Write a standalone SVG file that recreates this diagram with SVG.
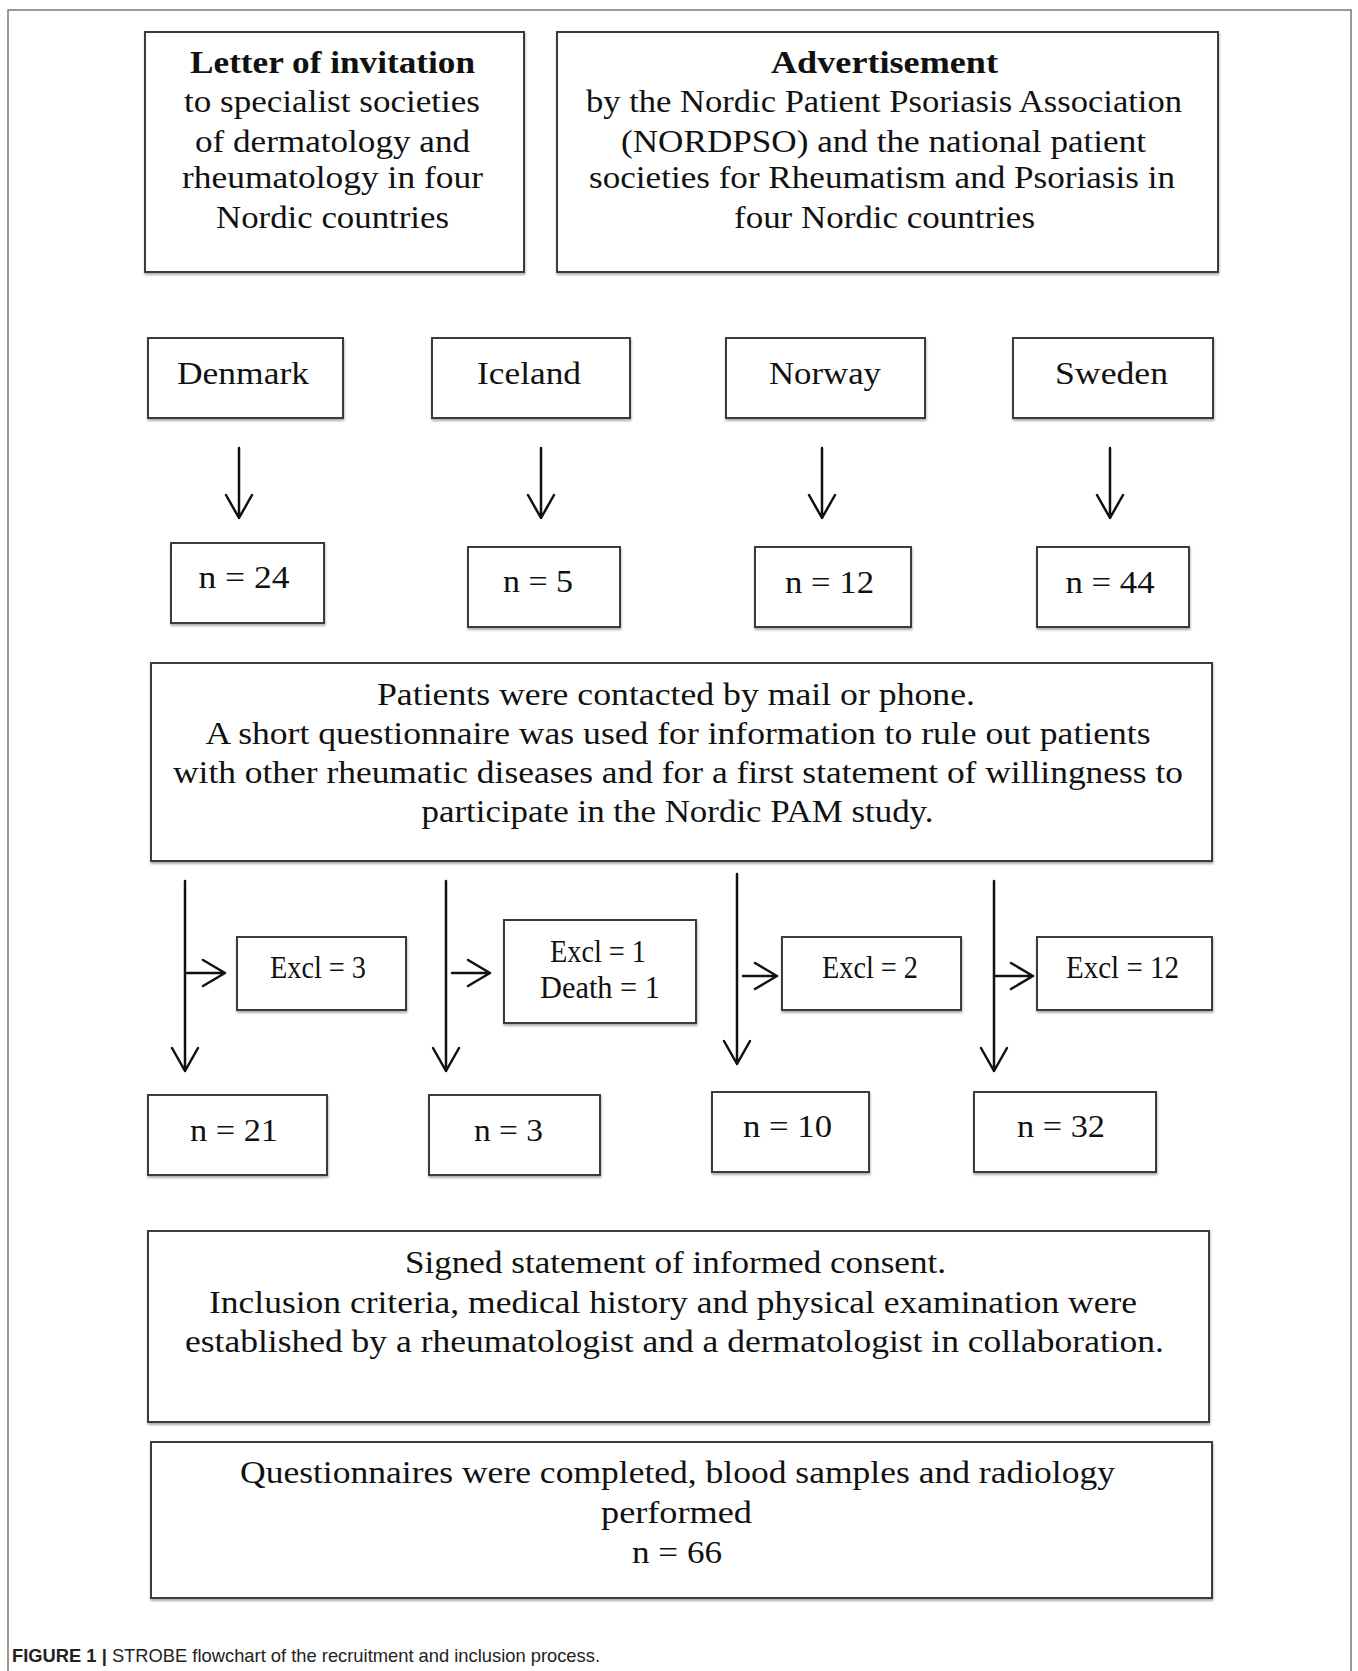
<svg xmlns="http://www.w3.org/2000/svg" width="1358" height="1671" viewBox="0 0 1358 1671">
<style>
.frame{fill:none;stroke:#777;stroke-width:1.5}
.box{fill:#fff;stroke:#3a3a3a;stroke-width:2;filter:url(#sh)}
.t{font-family:"Liberation Serif","Times New Roman",serif;font-size:32px;fill:#111;text-anchor:middle}
.b{font-weight:bold}
.cap{font-family:"Liberation Sans",Arial,sans-serif;font-size:19px;fill:#222}
.ln{fill:none;stroke:#111;stroke-width:2.5;stroke-linecap:round;stroke-linejoin:round}
</style>
<defs>
<filter id="sh" x="-5%" y="-5%" width="110%" height="115%">
<feDropShadow dx="0.5" dy="2" stdDeviation="0.8" flood-color="#999" flood-opacity="0.8"/>
</filter>
</defs>
<rect width="1358" height="1671" fill="#fff"/>
<rect class="frame" x="8" y="10" width="1343" height="1700"/>

<g id="letter">
<rect class="box" x="145" y="32" width="379" height="240"/>
<text class="t b" x="332.5" y="73" textLength="285" lengthAdjust="spacingAndGlyphs">Letter of invitation</text>
<text class="t" x="332" y="112" textLength="296" lengthAdjust="spacingAndGlyphs">to specialist societies</text>
<text class="t" x="332.5" y="152" textLength="275" lengthAdjust="spacingAndGlyphs">of dermatology and</text>
<text class="t" x="332.5" y="188" textLength="301" lengthAdjust="spacingAndGlyphs">rheumatology in four</text>
<text class="t" x="332.5" y="228" textLength="233" lengthAdjust="spacingAndGlyphs">Nordic countries</text>
</g>

<g id="advertisement">
<rect class="box" x="557" y="32" width="661" height="240"/>
<text class="t b" x="884.5" y="73" textLength="227" lengthAdjust="spacingAndGlyphs">Advertisement</text>
<text class="t" x="884" y="112" textLength="596" lengthAdjust="spacingAndGlyphs">by the Nordic Patient Psoriasis Association</text>
<text class="t" x="883.5" y="152" textLength="525" lengthAdjust="spacingAndGlyphs">(NORDPSO) and the national patient</text>
<text class="t" x="882" y="188" textLength="586" lengthAdjust="spacingAndGlyphs">societies for Rheumatism and Psoriasis in</text>
<text class="t" x="884.5" y="228" textLength="301" lengthAdjust="spacingAndGlyphs">four Nordic countries</text>
</g>

<g id="denmark">
<rect class="box" x="148" y="338" width="195" height="80"/>
<text class="t" x="243" y="384" textLength="132" lengthAdjust="spacingAndGlyphs">Denmark</text>
</g>
<g id="iceland">
<rect class="box" x="432" y="338" width="198" height="80"/>
<text class="t" x="529" y="384" textLength="104" lengthAdjust="spacingAndGlyphs">Iceland</text>
</g>
<g id="norway">
<rect class="box" x="726" y="338" width="199" height="80"/>
<text class="t" x="825" y="384" textLength="112" lengthAdjust="spacingAndGlyphs">Norway</text>
</g>
<g id="sweden">
<rect class="box" x="1013" y="338" width="200" height="80"/>
<text class="t" x="1111.5" y="384" textLength="113" lengthAdjust="spacingAndGlyphs">Sweden</text>
</g>

<g id="n24">
<rect class="box" x="171" y="543" width="153" height="80"/>
<text class="t" x="244" y="588" textLength="91" lengthAdjust="spacingAndGlyphs">n = 24</text>
</g>
<g id="n5">
<rect class="box" x="468" y="547" width="152" height="80"/>
<text class="t" x="538" y="592" textLength="70" lengthAdjust="spacingAndGlyphs">n = 5</text>
</g>
<g id="n12">
<rect class="box" x="755" y="547" width="156" height="80"/>
<text class="t" x="829.5" y="593" textLength="89" lengthAdjust="spacingAndGlyphs">n = 12</text>
</g>
<g id="n44">
<rect class="box" x="1037" y="547" width="152" height="80"/>
<text class="t" x="1110" y="593" textLength="89" lengthAdjust="spacingAndGlyphs">n = 44</text>
</g>

<g id="contacted">
<rect class="box" x="151" y="663" width="1061" height="198"/>
<text class="t" x="676" y="705" textLength="598" lengthAdjust="spacingAndGlyphs">Patients were contacted by mail or phone.</text>
<text class="t" x="678" y="744" textLength="945" lengthAdjust="spacingAndGlyphs">A short questionnaire was used for information to rule out patients</text>
<text class="t" x="678" y="783" textLength="1010" lengthAdjust="spacingAndGlyphs">with other rheumatic diseases and for a first statement of willingness to</text>
<text class="t" x="677.5" y="822" textLength="512" lengthAdjust="spacingAndGlyphs">participate in the Nordic PAM study.</text>
</g>

<g id="excl3">
<rect class="box" x="237" y="937" width="169" height="73"/>
<text class="t" x="318" y="978" textLength="96" lengthAdjust="spacingAndGlyphs">Excl = 3</text>
</g>
<g id="excl1death1">
<rect class="box" x="504" y="920" width="192" height="103"/>
<text class="t" x="598" y="962" textLength="96" lengthAdjust="spacingAndGlyphs">Excl = 1</text>
<text class="t" x="600" y="998" textLength="120" lengthAdjust="spacingAndGlyphs">Death = 1</text>
</g>
<g id="excl2">
<rect class="box" x="782" y="937" width="179" height="73"/>
<text class="t" x="870" y="978" textLength="96" lengthAdjust="spacingAndGlyphs">Excl = 2</text>
</g>
<g id="excl12">
<rect class="box" x="1037" y="937" width="175" height="73"/>
<text class="t" x="1122.5" y="978" textLength="113" lengthAdjust="spacingAndGlyphs">Excl = 12</text>
</g>

<g id="n21">
<rect class="box" x="148" y="1095" width="179" height="80"/>
<text class="t" x="234" y="1141" textLength="88" lengthAdjust="spacingAndGlyphs">n = 21</text>
</g>
<g id="n3">
<rect class="box" x="429" y="1095" width="171" height="80"/>
<text class="t" x="508.5" y="1141" textLength="69" lengthAdjust="spacingAndGlyphs">n = 3</text>
</g>
<g id="n10">
<rect class="box" x="712" y="1092" width="157" height="80"/>
<text class="t" x="787.5" y="1137" textLength="89" lengthAdjust="spacingAndGlyphs">n = 10</text>
</g>
<g id="n32">
<rect class="box" x="974" y="1092" width="182" height="80"/>
<text class="t" x="1061" y="1137" textLength="88" lengthAdjust="spacingAndGlyphs">n = 32</text>
</g>

<g id="consent">
<rect class="box" x="148" y="1231" width="1061" height="191"/>
<text class="t" x="675.5" y="1273" textLength="541" lengthAdjust="spacingAndGlyphs">Signed statement of informed consent.</text>
<text class="t" x="673" y="1313" textLength="928" lengthAdjust="spacingAndGlyphs">Inclusion criteria, medical history and physical examination were</text>
<text class="t" x="674.5" y="1352" textLength="979" lengthAdjust="spacingAndGlyphs">established by a rheumatologist and a dermatologist in collaboration.</text>
</g>

<g id="completed">
<rect class="box" x="151" y="1442" width="1061" height="156"/>
<text class="t" x="677.5" y="1483" textLength="875" lengthAdjust="spacingAndGlyphs">Questionnaires were completed, blood samples and radiology</text>
<text class="t" x="676.5" y="1523" textLength="151" lengthAdjust="spacingAndGlyphs">performed</text>
<text class="t" x="677" y="1563" textLength="90" lengthAdjust="spacingAndGlyphs">n = 66</text>
</g>

<g id="connectors">
<path class="ln" d="M239 448V518M226 495L239 518L252 495"/>
<path class="ln" d="M541 448V518M528 495L541 518L554 495"/>
<path class="ln" d="M822 448V518M809 495L822 518L835 495"/>
<path class="ln" d="M1110 448V518M1097 495L1110 518L1123 495"/>

<path class="ln" d="M185 881V1071M172 1048L185 1071L198 1048"/>
<path class="ln" d="M446 881V1071M433 1048L446 1071L459 1048"/>
<path class="ln" d="M737 874V1064M724 1041L737 1064L750 1041"/>
<path class="ln" d="M994 881V1071M981 1048L994 1071L1007 1048"/>

<path class="ln" d="M187 973H225M203 960L225 973L203 986"/>
<path class="ln" d="M452 973H490M468 960L490 973L468 986"/>
<path class="ln" d="M743 976H777M755 963L777 976L755 989"/>
<path class="ln" d="M996 976H1033M1011 963L1033 976L1011 989"/>
</g>

<g id="caption">
<text class="cap" x="12" y="1662" textLength="588" lengthAdjust="spacingAndGlyphs"><tspan font-weight="bold">FIGURE 1 |</tspan> STROBE flowchart of the recruitment and inclusion process.</text>
</g>
</svg>
